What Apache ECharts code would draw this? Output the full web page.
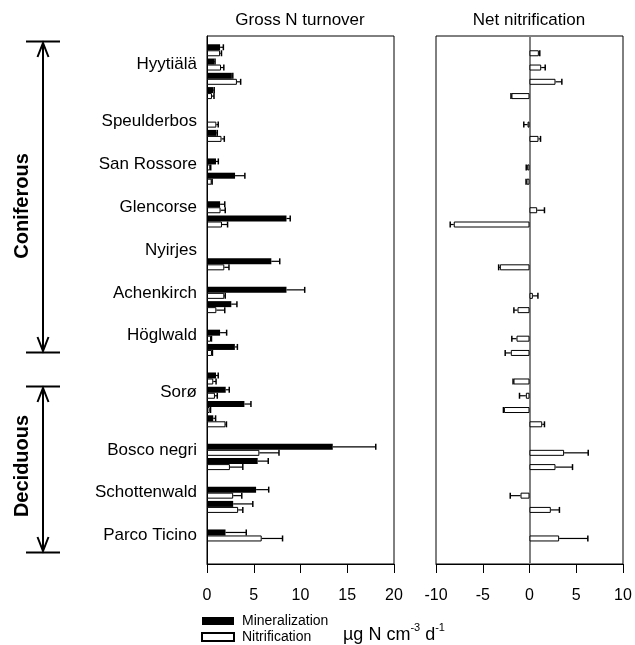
<!DOCTYPE html>
<html>
<head>
<meta charset="utf-8">
<script src="https://cdn.jsdelivr.net/npm/echarts@6/dist/echarts.min.js"></script>
<style>
  body { margin: 0; background: #fff; }
</style>
</head>
<body>
<div id="chart" style="width:635px;height:645px;"></div>
<script>
// rows of the plot, top to bottom (site name on the row where the label sits)
var categories = ['', '', 'Hyytiälä', '', '', '', 'Speulderbos', '', '', 'San Rossore', '', '',
  'Glencorse', '', '', 'Nyirjes', '', '', 'Achenkirch', '', '', 'Höglwald', '', '', '',
  'Sorø', '', '', '', 'Bosco negri', '', '', 'Schottenwald', '', '', 'Parco Ticino', '', ''];

// gross N turnover
var mineral = [null, 1.4, 0.78, 2.66, 0.67, null, null, 1.0, null, 0.96, 3.0, null, 1.4, 8.5, null, null,
  6.88, null, 8.5, 2.6, null, 1.4, 2.98, null, 0.96, 2.0, 4.0, 0.67, null, 13.45, 5.42, null,
  5.25, 2.8, null, 1.98, null, null];
var mineralErr = [null, 0.35, 0.08, 0.1, 0.1, null, null, 0.1, null, 0.25, 1.05, null, 0.5, 0.4, null, null,
  0.9, null, 1.95, 0.6, null, 0.7, 0.27, null, 0.24, 0.38, 0.7, 0.25, null, 4.6, 1.13, null,
  1.35, 2.1, null, 2.22, null, null];
var nitrif = [null, 1.4, 1.5, 3.2, 0.53, null, 1.0, 1.55, null, 0.35, 0.5, null, 1.45, 1.6, null, null,
  1.85, null, 1.85, 1.0, null, 0.43, 0.53, null, 0.67, 0.85, 0.28, 1.98, null, 5.6, 2.45, null,
  2.8, 3.33, null, 5.85, null, null];
var nitrifErr = [null, 0.15, 0.3, 0.4, 0.22, null, 0.2, 0.3, null, 0.05, 0.05, null, 0.5, 0.6, null, null,
  0.5, null, 0.1, 0.9, null, 0.05, 0.05, null, 0.3, 0.25, 0.1, 0.1, null, 2.1, 1.38, null,
  0.92, 0.5, null, 2.23, null, null];

// net nitrification
var netNitrif = [null, 1.0, 1.25, 2.78, -1.93, null, -0.21, 0.96, null, -0.25, -0.32, null, 0.82, -8.1, null, null,
  -3.17, null, 0.36, -1.28, null, -1.39, -2.0, null, -1.71, -0.39, -2.74, 1.36, null, 3.7, 2.78, null,
  -0.96, 2.28, null, 3.17, null, null];
var netNitrifErr = [null, 0.1, 0.43, 0.68, 0.05, null, 0.4, 0.22, null, 0.1, 0.05, null, 0.78, 0.38, null, null,
  0.13, null, 0.54, 0.39, null, 0.5, 0.6, null, 0.05, 0.68, 0.05, 0.24, null, 2.58, 1.82, null,
  1.1, 0.92, null, 3.07, null, null];

var grossTicks = [0, 20, 5];
var netTicks = [-10, 10, 5];

var font = 'Liberation Sans, Arial, sans-serif';

function barData(arr) {
  return arr.map(function (v) { return v == null ? '-' : v; });
}
function errData(vals, errs) {
  var out = [];
  for (var i = 0; i < vals.length; i++) {
    if (vals[i] != null && errs[i]) out.push([vals[i], i, errs[i]]);
  }
  return out;
}
// error bar drawn from the end of the bar outward, dy = offset of the bar in its row
function errRender(dy) {
  return function (params, api) {
    var v = api.value(0), c = api.value(1), e = api.value(2);
    var s = v < 0 ? -1 : 1;
    var p0 = api.coord([v, c]);
    var p1 = api.coord([v + s * e, c]);
    var y = p0[1] + dy;
    return {
      type: 'group',
      children: [
        { type: 'line', shape: { x1: p0[0], y1: y, x2: p1[0], y2: y }, style: { stroke: '#000', lineWidth: 1.2 } },
        { type: 'line', shape: { x1: p1[0], y1: y - 3, x2: p1[0], y2: y + 3 }, style: { stroke: '#000', lineWidth: 1.5 } }
      ]
    };
  };
}

function xAxis(idx, t) {
  return {
    type: 'value', gridIndex: idx, min: t[0], max: t[1], interval: t[2],
    axisLine: { show: true, onZero: false, lineStyle: { color: '#000', width: 1 } },
    axisTick: { show: true, inside: false, length: 9, lineStyle: { color: '#000' } },
    axisLabel: { color: '#000', fontSize: 16, fontFamily: font, margin: 24 },
    splitLine: { show: false }
  };
}

var chart = echarts.init(document.getElementById('chart'));
var option = {
  animation: false,
  title: [
    { text: 'Gross N turnover', left: 300, top: 12, textAlign: 'center', padding: 0,
      textStyle: { fontSize: 17, fontWeight: 'normal', color: '#000', fontFamily: font } },
    { text: 'Net nitrification', left: 529, top: 12, textAlign: 'center', padding: 0,
      textStyle: { fontSize: 17, fontWeight: 'normal', color: '#000', fontFamily: font } }
  ],
  legend: {
    data: ['Mineralization', 'Nitrification'],
    orient: 'vertical', left: 201, top: 614, itemWidth: 32, itemHeight: 8, itemGap: 2,
    icon: 'rect', padding: 0,
    textStyle: { fontSize: 14, color: '#000', fontFamily: font, padding: [0, 0, 0, 3] }
  },
  grid: [
    { left: 207, top: 36, width: 187, height: 528, show: true, borderColor: '#000', borderWidth: 1 },
    { left: 436, top: 36, width: 187, height: 528, show: true, borderColor: '#000', borderWidth: 1 }
  ],
  xAxis: [xAxis(0, grossTicks), xAxis(1, netTicks)],
  yAxis: [
    { type: 'category', gridIndex: 0, data: categories, inverse: true, boundaryGap: false,
      axisLine: { show: true, lineStyle: { color: '#000' } }, axisTick: { show: false },
      axisLabel: { interval: 0, color: '#000', fontSize: 17, fontFamily: font, margin: 10 } },
    { type: 'category', gridIndex: 1, data: categories, inverse: true, boundaryGap: false,
      axisLine: { show: true, onZero: true, lineStyle: { color: '#808080', width: 2 } }, axisTick: { show: false },
      axisLabel: { show: false } }
  ],
  series: [
    { name: 'Mineralization', type: 'bar', xAxisIndex: 0, yAxisIndex: 0, data: barData(mineral),
      barWidth: 6, barGap: '0%', itemStyle: { color: '#000', borderColor: '#000', borderWidth: 0 } },
    { name: 'Nitrification', type: 'bar', xAxisIndex: 0, yAxisIndex: 0, data: barData(nitrif),
      barWidth: 6, barGap: '0%', itemStyle: { color: '#fff', borderColor: '#000', borderWidth: 1 } },
    { name: 'pad', type: 'bar', xAxisIndex: 1, yAxisIndex: 1, data: barData(netNitrif.map(function () { return null; })),
      barWidth: 6, barGap: '0%' },
    { name: 'Net nitrification', type: 'bar', xAxisIndex: 1, yAxisIndex: 1, data: barData(netNitrif),
      barWidth: 6, barGap: '0%', itemStyle: { color: '#fff', borderColor: '#000', borderWidth: 1 } },
    { type: 'custom', xAxisIndex: 0, yAxisIndex: 0, renderItem: errRender(-3),
      data: errData(mineral, mineralErr), encode: { x: 0, y: 1 }, z: 3 },
    { type: 'custom', xAxisIndex: 0, yAxisIndex: 0, renderItem: errRender(3),
      data: errData(nitrif, nitrifErr), encode: { x: 0, y: 1 }, z: 3 },
    { type: 'custom', xAxisIndex: 1, yAxisIndex: 1, renderItem: errRender(3),
      data: errData(netNitrif, netNitrifErr), encode: { x: 0, y: 1 }, z: 3 }
  ],
  graphic: [
    // unit label
    { type: 'text', left: 343, top: 622, silent: true,
      style: {
        text: '{n|µg N cm}{s|-3}{n| d}{s|-1}', fill: '#000',
        rich: {
          n: { fontSize: 18, fontFamily: font, fill: '#000', verticalAlign: 'bottom', lineHeight: 22 },
          s: { fontSize: 11, fontFamily: font, fill: '#000', verticalAlign: 'top', lineHeight: 22, padding: [0, 0, 10, 0] }
        }
      } },
    // Coniferous bracket
    { type: 'line', shape: { x1: 26, y1: 41.5, x2: 60, y2: 41.5 }, style: { stroke: '#000', lineWidth: 2 } },
    { type: 'line', shape: { x1: 26, y1: 352.5, x2: 60, y2: 352.5 }, style: { stroke: '#000', lineWidth: 2 } },
    { type: 'line', shape: { x1: 43, y1: 43, x2: 43, y2: 351 }, style: { stroke: '#000', lineWidth: 2 } },
    { type: 'polyline', shape: { points: [[37.5, 57], [43, 43], [48.5, 57]] }, style: { stroke: '#000', lineWidth: 2, fill: null } },
    { type: 'polyline', shape: { points: [[37.5, 337], [43, 351], [48.5, 337]] }, style: { stroke: '#000', lineWidth: 2, fill: null } },
    { type: 'text', x: 22, y: 206, rotation: Math.PI / 2,
      style: { text: 'Coniferous', fontSize: 20, fontWeight: 'bold', fontFamily: font, fill: '#000', align: 'center', verticalAlign: 'middle' } },
    // Deciduous bracket
    { type: 'line', shape: { x1: 26, y1: 386.5, x2: 60, y2: 386.5 }, style: { stroke: '#000', lineWidth: 2 } },
    { type: 'line', shape: { x1: 26, y1: 552.5, x2: 60, y2: 552.5 }, style: { stroke: '#000', lineWidth: 2 } },
    { type: 'line', shape: { x1: 43, y1: 388, x2: 43, y2: 551 }, style: { stroke: '#000', lineWidth: 2 } },
    { type: 'polyline', shape: { points: [[37.5, 402], [43, 388], [48.5, 402]] }, style: { stroke: '#000', lineWidth: 2, fill: null } },
    { type: 'polyline', shape: { points: [[37.5, 537], [43, 551], [48.5, 537]] }, style: { stroke: '#000', lineWidth: 2, fill: null } },
    { type: 'text', x: 22, y: 466, rotation: Math.PI / 2,
      style: { text: 'Deciduous', fontSize: 20, fontWeight: 'bold', fontFamily: font, fill: '#000', align: 'center', verticalAlign: 'middle' } }
  ]
};
chart.setOption(option);
</script>
</body>
</html>
